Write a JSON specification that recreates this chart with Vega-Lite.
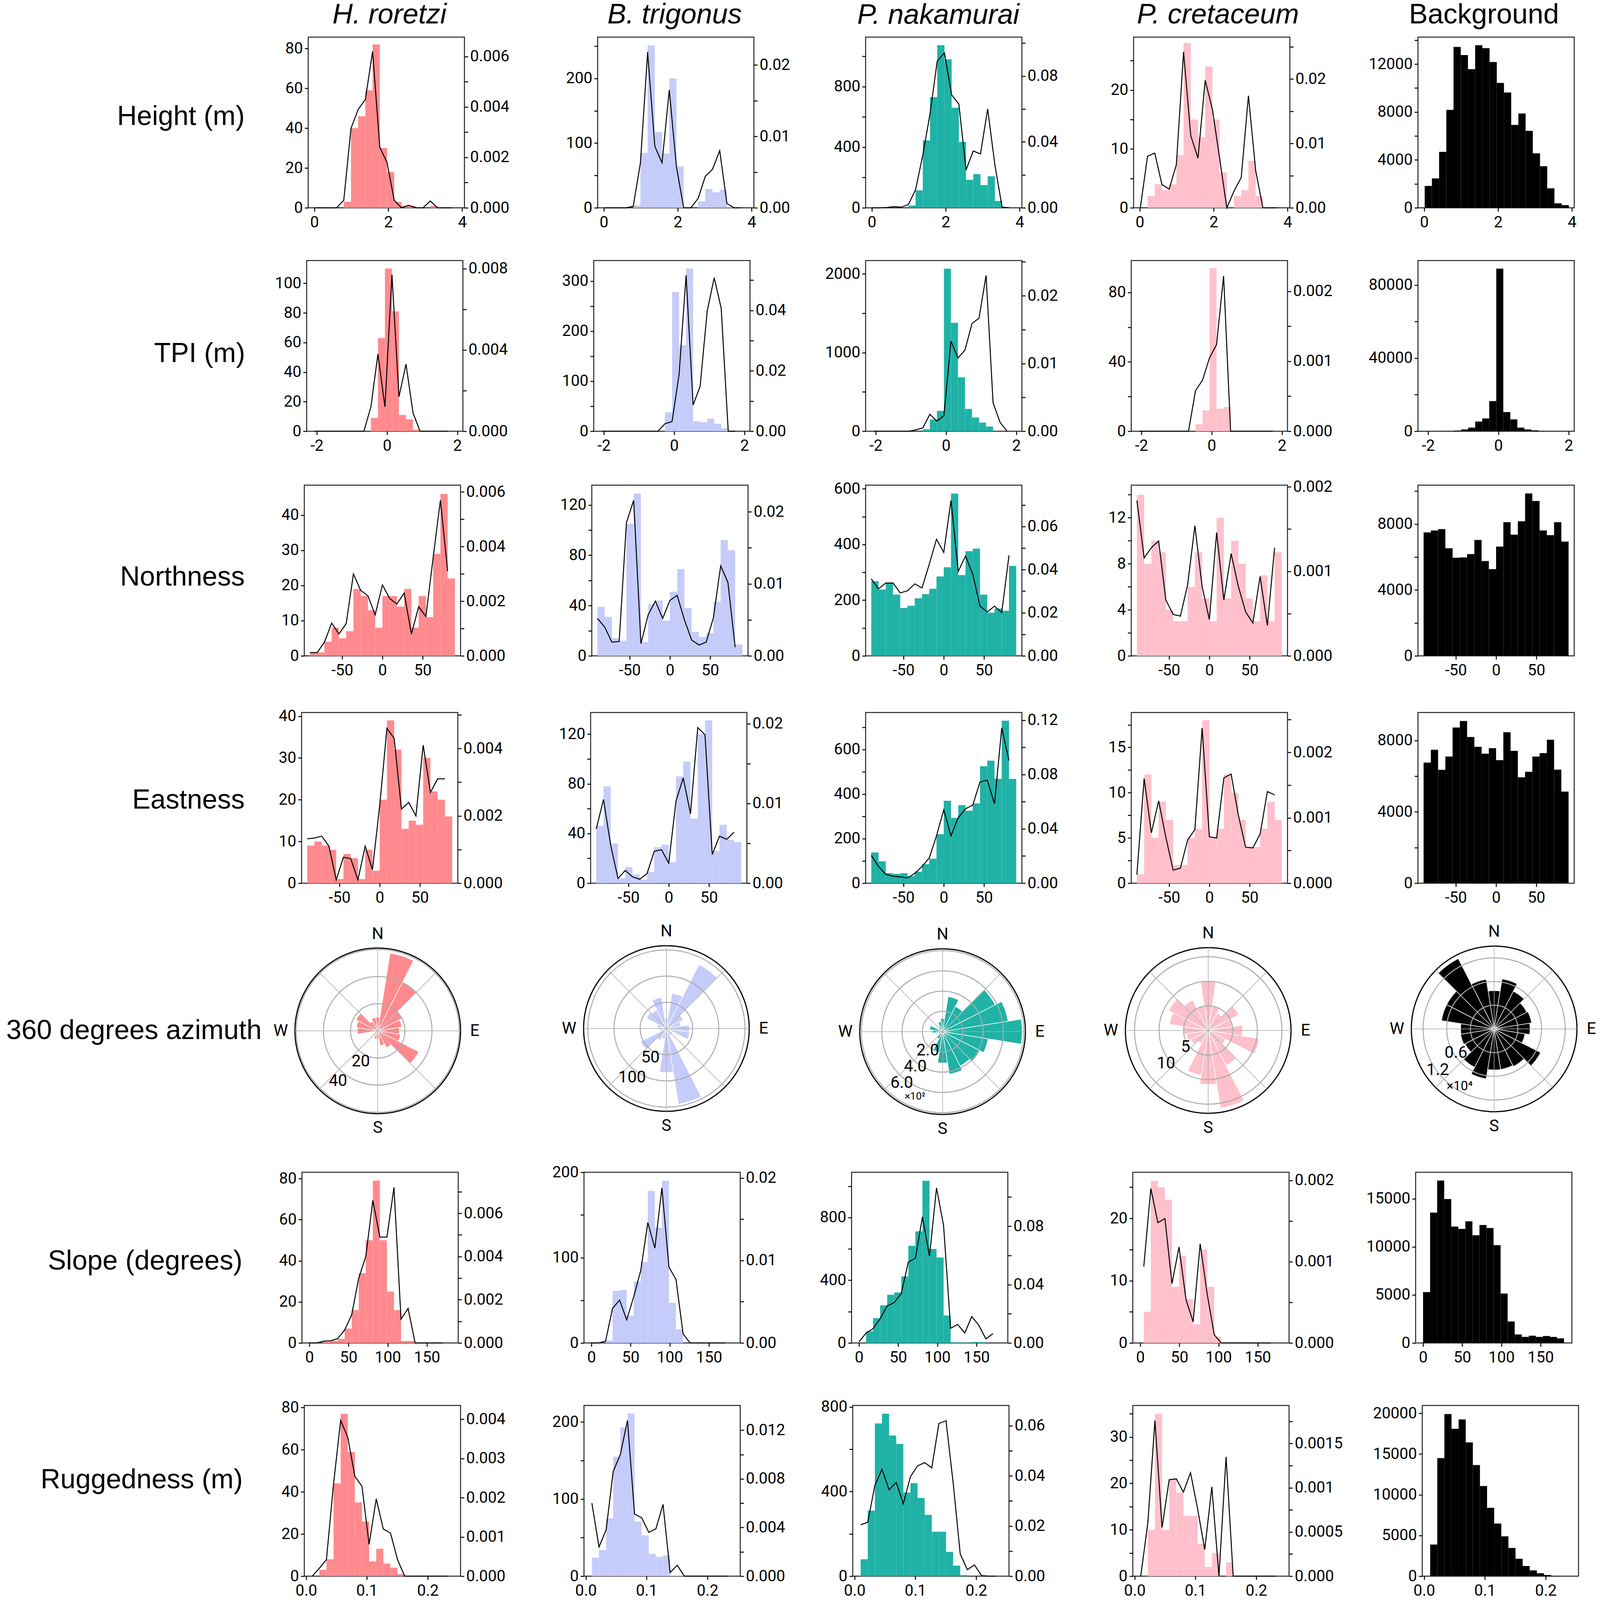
{"$schema":"https://vega.github.io/schema/vega-lite/v6.json","padding":0,"background":"#fff","spacing":0,
"config":{"numberFormat":"d","view":{"stroke":"#222","strokeWidth":2.5},"title":{"font":"Liberation Sans","fontSize":72,"fontWeight":"normal","anchor":"middle","baseline":"alphabetic","offset":20,"color":"#000"},
"axis":{"grid":false,"domain":false,"labelFont":"Roboto","labelFontSize":40,"labelColor":"#000","labelPadding":5,"labelOverlap":false,"labelFlush":false,"tickColor":"#000","tickWidth":2.5,"tickSize":9,"titleFont":"Liberation Sans","titleFontSize":70,"titleFontWeight":"normal","titleColor":"#000","titleAngle":0,"titleAlign":"right","titleBaseline":"middle"},
"axisX":{"labelPadding":8},
"text":{"font":"Roboto","fontSize":42,"color":"#000"}},
"datasets":{
"h":[{"k":0,"a":0.015,"b":0.21},{"k":1,"a":0.21,"b":0.405},{"k":2,"a":0.405,"b":0.6},{"k":3,"a":0.6,"b":0.795},{"k":4,"a":0.795,"b":0.99},{"k":5,"a":0.99,"b":1.185},{"k":6,"a":1.185,"b":1.38},{"k":7,"a":1.38,"b":1.575},{"k":8,"a":1.575,"b":1.77},{"k":9,"a":1.77,"b":1.965},{"k":10,"a":1.965,"b":2.16},{"k":11,"a":2.16,"b":2.355},{"k":12,"a":2.355,"b":2.55},{"k":13,"a":2.55,"b":2.745},{"k":14,"a":2.745,"b":2.94},{"k":15,"a":2.94,"b":3.135},{"k":16,"a":3.135,"b":3.33},{"k":17,"a":3.33,"b":3.525},{"k":18,"a":3.525,"b":3.72},{"k":19,"a":3.72,"b":3.915}],
"t":[{"k":0,"a":-2.06,"b":-1.86},{"k":1,"a":-1.86,"b":-1.66},{"k":2,"a":-1.66,"b":-1.46},{"k":3,"a":-1.46,"b":-1.26},{"k":4,"a":-1.26,"b":-1.06},{"k":5,"a":-1.06,"b":-0.86},{"k":6,"a":-0.86,"b":-0.66},{"k":7,"a":-0.66,"b":-0.46},{"k":8,"a":-0.46,"b":-0.26},{"k":9,"a":-0.26,"b":-0.06},{"k":10,"a":-0.06,"b":0.14},{"k":11,"a":0.14,"b":0.34},{"k":12,"a":0.34,"b":0.54},{"k":13,"a":0.54,"b":0.74},{"k":14,"a":0.74,"b":0.94},{"k":15,"a":0.94,"b":1.14},{"k":16,"a":1.14,"b":1.34},{"k":17,"a":1.34,"b":1.54},{"k":18,"a":1.54,"b":1.74},{"k":19,"a":1.74,"b":1.94}],
"e":[{"k":0,"a":-90,"b":-81},{"k":1,"a":-81,"b":-72},{"k":2,"a":-72,"b":-63},{"k":3,"a":-63,"b":-54},{"k":4,"a":-54,"b":-45},{"k":5,"a":-45,"b":-36},{"k":6,"a":-36,"b":-27},{"k":7,"a":-27,"b":-18},{"k":8,"a":-18,"b":-9},{"k":9,"a":-9,"b":0},{"k":10,"a":0,"b":9},{"k":11,"a":9,"b":18},{"k":12,"a":18,"b":27},{"k":13,"a":27,"b":36},{"k":14,"a":36,"b":45},{"k":15,"a":45,"b":54},{"k":16,"a":54,"b":63},{"k":17,"a":63,"b":72},{"k":18,"a":72,"b":81},{"k":19,"a":81,"b":90}],
"s":[{"k":0,"a":0,"b":9},{"k":1,"a":9,"b":18},{"k":2,"a":18,"b":27},{"k":3,"a":27,"b":36},{"k":4,"a":36,"b":45},{"k":5,"a":45,"b":54},{"k":6,"a":54,"b":63},{"k":7,"a":63,"b":72},{"k":8,"a":72,"b":81},{"k":9,"a":81,"b":90},{"k":10,"a":90,"b":99},{"k":11,"a":99,"b":108},{"k":12,"a":108,"b":117},{"k":13,"a":117,"b":126},{"k":14,"a":126,"b":135},{"k":15,"a":135,"b":144},{"k":16,"a":144,"b":153},{"k":17,"a":153,"b":162},{"k":18,"a":162,"b":171},{"k":19,"a":171,"b":180}],
"s4":[{"k":0,"a":4.5,"b":13.5},{"k":1,"a":13.5,"b":22.5},{"k":2,"a":22.5,"b":31.5},{"k":3,"a":31.5,"b":40.5},{"k":4,"a":40.5,"b":49.5},{"k":5,"a":49.5,"b":58.5},{"k":6,"a":58.5,"b":67.5},{"k":7,"a":67.5,"b":76.5},{"k":8,"a":76.5,"b":85.5},{"k":9,"a":85.5,"b":94.5},{"k":10,"a":94.5,"b":103.5},{"k":11,"a":103.5,"b":112.5},{"k":12,"a":112.5,"b":121.5},{"k":13,"a":121.5,"b":130.5},{"k":14,"a":130.5,"b":139.5},{"k":15,"a":139.5,"b":148.5},{"k":16,"a":148.5,"b":157.5},{"k":17,"a":157.5,"b":166.5},{"k":18,"a":166.5,"b":175.5}],
"r":[{"k":0,"a":0.01,"b":0.0217},{"k":1,"a":0.0217,"b":0.0334},{"k":2,"a":0.0334,"b":0.0451},{"k":3,"a":0.0451,"b":0.0568},{"k":4,"a":0.0568,"b":0.0685},{"k":5,"a":0.0685,"b":0.0802},{"k":6,"a":0.0802,"b":0.0919},{"k":7,"a":0.0919,"b":0.1036},{"k":8,"a":0.1036,"b":0.1153},{"k":9,"a":0.1153,"b":0.127},{"k":10,"a":0.127,"b":0.1387},{"k":11,"a":0.1387,"b":0.1504},{"k":12,"a":0.1504,"b":0.1621},{"k":13,"a":0.1621,"b":0.1738},{"k":14,"a":0.1738,"b":0.1855},{"k":15,"a":0.1855,"b":0.1972},{"k":16,"a":0.1972,"b":0.2089},{"k":17,"a":0.2089,"b":0.2206},{"k":18,"a":0.2206,"b":0.2323},{"k":19,"a":0.2323,"b":0.244}],
"z":[{"k":0,"a":-9,"b":9},{"k":1,"a":9,"b":27},{"k":2,"a":27,"b":45},{"k":3,"a":45,"b":63},{"k":4,"a":63,"b":81},{"k":5,"a":81,"b":99},{"k":6,"a":99,"b":117},{"k":7,"a":117,"b":135},{"k":8,"a":135,"b":153},{"k":9,"a":153,"b":171},{"k":10,"a":171,"b":189},{"k":11,"a":189,"b":207},{"k":12,"a":207,"b":225},{"k":13,"a":225,"b":243},{"k":14,"a":243,"b":261},{"k":15,"a":261,"b":279},{"k":16,"a":279,"b":297},{"k":17,"a":297,"b":315},{"k":18,"a":315,"b":333},{"k":19,"a":333,"b":351}],
"sp":[{"t":0},{"t":45},{"t":90},{"t":135},{"t":180},{"t":225},{"t":270},{"t":315}]},
"vconcat":[
{"bounds":"flush","spacing":0,"hconcat":[
{"width":789,"height":1,"view":{"stroke":null},"data":{"values":[{}]},"mark":"text","encoding":{}},
{"width":400,"height":437,"title":{"text":"H. roretzi","fontStyle":"italic","dx":8},"data":{"values":[{"k":0,"n":0,"p":0},{"k":1,"n":0,"p":0},{"k":2,"n":0,"p":0},{"k":3,"n":0,"p":0},{"k":4,"n":3,"p":0.0003},{"k":5,"n":40,"p":0.00315},{"k":6,"n":46,"p":0.0039},{"k":7,"n":59,"p":0.0043},{"k":8,"n":82,"p":0.0062},{"k":9,"n":30,"p":0.0024},{"k":10,"n":18,"p":0.0018},{"k":11,"n":3,"p":0.0003},{"k":12,"n":1,"p":0},{"k":13,"n":1,"p":0.0001},{"k":14,"n":0,"p":0},{"k":15,"n":0,"p":0},{"k":16,"n":1,"p":0.00027},{"k":17,"n":0,"p":0},{"k":18,"n":0,"p":0},{"k":19,"n":0,"p":0}]},"transform":[{"lookup":"k","from":{"data":{"name":"h"},"key":"k","fields":["a","b"]}}],"encoding":{"x":{"field":"a","type":"quantitative","title":null,"scale":{"domain":[-0.167,4.06]},"axis":{"values":[0,2,4]}}},"layer":[{"mark":{"type":"bar","color":"#ff8a8e"},"encoding":{"x2":{"field":"b"},"y2":{"datum":0},"y":{"field":"n","type":"quantitative","scale":{"domain":[0,85.7]},"axis":{"values":[0,20,40,60,80],"title":"Height (m)","titleX":-163,"titleY":203}}}},{"mark":{"type":"line","color":"#000","strokeWidth":2.5},"encoding":{"y":{"field":"p","type":"quantitative","title":null,"scale":{"domain":[0,0.00677]},"axis":{"orient":"right","format":".3f","values":[0,0.001,0.002,0.003,0.004,0.005,0.006],"labelExpr":"round(datum.value*1000)%2==0?datum.label:''"}}}}],"resolve":{"scale":{"y":"independent"}}},
{"width":341,"height":1,"view":{"stroke":null},"data":{"values":[{}]},"mark":"text","encoding":{}},
{"width":400,"height":437,"title":{"text":"B. trigonus","fontStyle":"italic","dx":-3},"data":{"values":[{"k":0,"n":0,"p":0},{"k":1,"n":0,"p":0},{"k":2,"n":0,"p":0},{"k":3,"n":0,"p":0},{"k":4,"n":4,"p":0.0002},{"k":5,"n":85,"p":0.0063},{"k":6,"n":251,"p":0.0218},{"k":7,"n":117,"p":0.0086},{"k":8,"n":84,"p":0.0063},{"k":9,"n":200,"p":0.0165},{"k":10,"n":64,"p":0.0057},{"k":11,"n":0,"p":0},{"k":12,"n":0,"p":0},{"k":13,"n":10,"p":0.0013},{"k":14,"n":29,"p":0.0044},{"k":15,"n":24,"p":0.0054},{"k":16,"n":28,"p":0.008},{"k":17,"n":2,"p":0.0006},{"k":18,"n":0,"p":0},{"k":19,"n":0,"p":0}]},"transform":[{"lookup":"k","from":{"data":{"name":"h"},"key":"k","fields":["a","b"]}}],"encoding":{"x":{"field":"a","type":"quantitative","title":null,"scale":{"domain":[-0.167,4.06]},"axis":{"values":[0,2,4]}}},"layer":[{"mark":{"type":"bar","color":"#c5ccfa"},"encoding":{"x2":{"field":"b"},"y2":{"datum":0},"y":{"field":"n","type":"quantitative","title":null,"scale":{"domain":[0,263.9]},"axis":{"values":[0,50,100,150,200,250],"labelExpr":"datum.value%100==0?datum.label:''"}}}},{"mark":{"type":"line","color":"#000","strokeWidth":2.5},"encoding":{"y":{"field":"p","type":"quantitative","title":null,"scale":{"domain":[0,0.0239]},"axis":{"orient":"right","format":".2f","values":[0,0.005,0.01,0.015,0.02],"labelExpr":"round(datum.value*1000)%10==0?datum.label:''"}}}}],"resolve":{"scale":{"y":"independent"}}},
{"width":286,"height":1,"view":{"stroke":null},"data":{"values":[{}]},"mark":"text","encoding":{}},
{"width":400,"height":437,"title":{"text":"P. nakamurai","fontStyle":"italic","dx":-14,"offset":14},"data":{"values":[{"k":0,"n":0,"p":0},{"k":1,"n":0,"p":0},{"k":2,"n":0,"p":0.0002},{"k":3,"n":0,"p":0.0007},{"k":4,"n":0,"p":0.0004},{"k":5,"n":15,"p":0.002},{"k":6,"n":115,"p":0.011},{"k":7,"n":445,"p":0.032},{"k":8,"n":730,"p":0.057},{"k":9,"n":1073,"p":0.089},{"k":10,"n":980,"p":0.094},{"k":11,"n":660,"p":0.0685},{"k":12,"n":435,"p":0.063},{"k":13,"n":185,"p":0.023},{"k":14,"n":222,"p":0.0345},{"k":15,"n":150,"p":0.0327},{"k":16,"n":208,"p":0.06},{"k":17,"n":45,"p":0.026},{"k":18,"n":2,"p":0.0004},{"k":19,"n":0,"p":0}]},"transform":[{"lookup":"k","from":{"data":{"name":"h"},"key":"k","fields":["a","b"]}}],"encoding":{"x":{"field":"a","type":"quantitative","title":null,"scale":{"domain":[-0.167,4.06]},"axis":{"values":[0,2,4]}}},"layer":[{"mark":{"type":"bar","color":"#20b2a6"},"encoding":{"x2":{"field":"b"},"y2":{"datum":0},"y":{"field":"n","type":"quantitative","title":null,"scale":{"domain":[0,1126]},"axis":{"values":[0,200,400,600,800,1000],"labelExpr":"datum.value%400==0?datum.label:''"}}}},{"mark":{"type":"line","color":"#000","strokeWidth":2.5},"encoding":{"y":{"field":"p","type":"quantitative","title":null,"scale":{"domain":[0,0.1036]},"axis":{"orient":"right","format":".2f","values":[0,0.02,0.04,0.06,0.08,0.1],"labelExpr":"round(datum.value*100)%4==0&&datum.value<0.1?datum.label:''"}}}}],"resolve":{"scale":{"y":"independent"}}},
{"width":286,"height":1,"view":{"stroke":null},"data":{"values":[{}]},"mark":"text","encoding":{}},
{"width":400,"height":437,"title":{"text":"P. cretaceum","fontStyle":"italic","dx":16},"data":{"values":[{"k":0,"n":0,"p":0},{"k":1,"n":2,"p":0.008},{"k":2,"n":4,"p":0.0085},{"k":3,"n":3,"p":0.0036},{"k":4,"n":4,"p":0.0029},{"k":5,"n":9,"p":0.0067},{"k":6,"n":28,"p":0.0242},{"k":7,"n":15,"p":0.0112},{"k":8,"n":12,"p":0.0077},{"k":9,"n":24,"p":0.0198},{"k":10,"n":15,"p":0.0153},{"k":11,"n":6,"p":0.0077},{"k":12,"n":0,"p":0},{"k":13,"n":2,"p":0.0026},{"k":14,"n":3,"p":0.0047},{"k":15,"n":8,"p":0.0174},{"k":16,"n":2,"p":0.0058},{"k":17,"n":0,"p":0},{"k":18,"n":0,"p":0},{"k":19,"n":0,"p":0}]},"transform":[{"lookup":"k","from":{"data":{"name":"h"},"key":"k","fields":["a","b"]}}],"encoding":{"x":{"field":"a","type":"quantitative","title":null,"scale":{"domain":[-0.167,4.06]},"axis":{"values":[0,2,4]}}},"layer":[{"mark":{"type":"bar","color":"#ffc0cb"},"encoding":{"x2":{"field":"b"},"y2":{"datum":0},"y":{"field":"n","type":"quantitative","title":null,"scale":{"domain":[0,29]},"axis":{"values":[0,5,10,15,20,25],"labelExpr":"datum.value%10==0?datum.label:''"}}}},{"mark":{"type":"line","color":"#000","strokeWidth":2.5},"encoding":{"y":{"field":"p","type":"quantitative","title":null,"scale":{"domain":[0,0.0265]},"axis":{"orient":"right","format":".2f","values":[0,0.005,0.01,0.015,0.02,0.025],"labelExpr":"round(datum.value*1000)%10==0?datum.label:''"}}}}],"resolve":{"scale":{"y":"independent"}}},
{"width":328,"height":1,"view":{"stroke":null},"data":{"values":[{}]},"mark":"text","encoding":{}},
{"width":400,"height":437,"title":{"text":"Background","dx":-31,"offset":8},"data":{"values":[{"k":0,"n":1825},{"k":1,"n":2450},{"k":2,"n":4675},{"k":3,"n":8175},{"k":4,"n":13425},{"k":5,"n":12750},{"k":6,"n":11575},{"k":7,"n":13575},{"k":8,"n":13325},{"k":9,"n":12175},{"k":10,"n":10425},{"k":11,"n":9625},{"k":12,"n":6925},{"k":13,"n":7875},{"k":14,"n":6425},{"k":15,"n":4550},{"k":16,"n":3475},{"k":17,"n":1625},{"k":18,"n":375},{"k":19,"n":225}]},"transform":[{"lookup":"k","from":{"data":{"name":"h"},"key":"k","fields":["a","b"]}}],"mark":{"type":"bar","color":"#000"},"encoding":{"x":{"field":"a","type":"quantitative","title":null,"scale":{"domain":[-0.167,4.06]},"axis":{"values":[0,2,4]}},"x2":{"field":"b"},"y2":{"datum":0},"y":{"field":"n","type":"quantitative","title":null,"scale":{"domain":[0,14250]},"axis":{"values":[0,2000,4000,6000,8000,10000,12000,14000],"labelExpr":"datum.value%4000==0?datum.label:''"}}}}
]},
{"width":1,"height":55,"view":{"stroke":null},"data":{"values":[{}]},"mark":"text","encoding":{}},
{"bounds":"flush","spacing":0,"hconcat":[
{"width":785,"height":1,"view":{"stroke":null},"data":{"values":[{}]},"mark":"text","encoding":{}},
{"width":400,"height":437,"data":{"values":[{"k":0,"n":0,"p":0},{"k":1,"n":0,"p":0},{"k":2,"n":0,"p":0},{"k":3,"n":0,"p":0},{"k":4,"n":0,"p":0},{"k":5,"n":0,"p":0},{"k":6,"n":0,"p":0},{"k":7,"n":0,"p":0},{"k":8,"n":9,"p":0.0012},{"k":9,"n":63,"p":0.0038},{"k":10,"n":110,"p":0.0012},{"k":11,"n":81,"p":0.0077},{"k":12,"n":11,"p":0.0017},{"k":13,"n":8,"p":0.0033},{"k":14,"n":1,"p":0.0009},{"k":15,"n":0,"p":0},{"k":16,"n":0,"p":0},{"k":17,"n":0,"p":0},{"k":18,"n":0,"p":0},{"k":19,"n":0,"p":0}]},"transform":[{"lookup":"k","from":{"data":{"name":"t"},"key":"k","fields":["a","b"]}}],"encoding":{"x":{"field":"a","type":"quantitative","title":null,"scale":{"domain":[-2.29,2.16]},"axis":{"values":[-2,0,2],"labelExpr":"''+datum.value"}}},"layer":[{"mark":{"type":"bar","color":"#ff8a8e"},"encoding":{"x2":{"field":"b"},"y2":{"datum":0},"y":{"field":"n","type":"quantitative","scale":{"domain":[0,115.4]},"axis":{"values":[0,20,40,60,80,100],"title":"TPI (m)","titleX":-158,"titleY":238}}}},{"mark":{"type":"line","color":"#000","strokeWidth":2.5},"encoding":{"y":{"field":"p","type":"quantitative","title":null,"scale":{"domain":[0,0.0084]},"axis":{"orient":"right","format":".3f","values":[0,0.002,0.004,0.006,0.008],"labelExpr":"round(datum.value*1000)%4==0?datum.label:''"}}}}],"resolve":{"scale":{"y":"independent"}}},
{"width":335,"height":1,"view":{"stroke":null},"data":{"values":[{}]},"mark":"text","encoding":{}},
{"width":400,"height":437,"data":{"values":[{"k":0,"n":0,"p":0},{"k":1,"n":0,"p":0},{"k":2,"n":0,"p":0},{"k":3,"n":0,"p":0},{"k":4,"n":0,"p":0},{"k":5,"n":0,"p":0},{"k":6,"n":0,"p":0},{"k":7,"n":0,"p":0},{"k":8,"n":0,"p":0},{"k":9,"n":38,"p":0.0025},{"k":10,"n":278,"p":0.0032},{"k":11,"n":172,"p":0.0188},{"k":12,"n":325,"p":0.0516},{"k":13,"n":20,"p":0.0087},{"k":14,"n":18,"p":0.0149},{"k":15,"n":25,"p":0.0397},{"k":16,"n":15,"p":0.0508},{"k":17,"n":6,"p":0.0407},{"k":18,"n":1,"p":0},{"k":19,"n":0,"p":0}]},"transform":[{"lookup":"k","from":{"data":{"name":"t"},"key":"k","fields":["a","b"]}}],"encoding":{"x":{"field":"a","type":"quantitative","title":null,"scale":{"domain":[-2.29,2.16]},"axis":{"values":[-2,0,2],"labelExpr":"''+datum.value"}}},"layer":[{"mark":{"type":"bar","color":"#c5ccfa"},"encoding":{"x2":{"field":"b"},"y2":{"datum":0},"y":{"field":"n","type":"quantitative","title":null,"scale":{"domain":[0,341]},"axis":{"values":[0,50,100,150,200,250,300],"labelExpr":"datum.value%100==0?datum.label:''"}}}},{"mark":{"type":"line","color":"#000","strokeWidth":2.5},"encoding":{"y":{"field":"p","type":"quantitative","title":null,"scale":{"domain":[0,0.0565]},"axis":{"orient":"right","format":".2f","values":[0,0.01,0.02,0.03,0.04,0.05],"labelExpr":"round(datum.value*100)%2==0?datum.label:''"}}}}],"resolve":{"scale":{"y":"independent"}}},
{"width":296,"height":1,"view":{"stroke":null},"data":{"values":[{}]},"mark":"text","encoding":{}},
{"width":400,"height":437,"data":{"values":[{"k":0,"n":0,"p":0},{"k":1,"n":0,"p":0},{"k":2,"n":0,"p":0},{"k":3,"n":0,"p":0},{"k":4,"n":0,"p":0},{"k":5,"n":0,"p":0},{"k":6,"n":0,"p":0.0002},{"k":7,"n":25,"p":0.0005},{"k":8,"n":150,"p":0.0025},{"k":9,"n":260,"p":0.0015},{"k":10,"n":2068,"p":0.0023},{"k":11,"n":1380,"p":0.0133},{"k":12,"n":685,"p":0.0108},{"k":13,"n":285,"p":0.012},{"k":14,"n":175,"p":0.0159},{"k":15,"n":110,"p":0.0167},{"k":16,"n":60,"p":0.023},{"k":17,"n":0,"p":0.0042},{"k":18,"n":0,"p":0.0013},{"k":19,"n":0,"p":0}]},"transform":[{"lookup":"k","from":{"data":{"name":"t"},"key":"k","fields":["a","b"]}}],"encoding":{"x":{"field":"a","type":"quantitative","title":null,"scale":{"domain":[-2.29,2.16]},"axis":{"values":[-2,0,2],"labelExpr":"''+datum.value"}}},"layer":[{"mark":{"type":"bar","color":"#20b2a6"},"encoding":{"x2":{"field":"b"},"y2":{"datum":0},"y":{"field":"n","type":"quantitative","title":null,"scale":{"domain":[0,2171]},"axis":{"values":[0,500,1000,1500,2000],"labelExpr":"datum.value%1000==0?datum.label:''"}}}},{"mark":{"type":"line","color":"#000","strokeWidth":2.5},"encoding":{"y":{"field":"p","type":"quantitative","title":null,"scale":{"domain":[0,0.0252]},"axis":{"orient":"right","format":".2f","values":[0,0.005,0.01,0.015,0.02,0.025],"labelExpr":"round(datum.value*1000)%10==0?datum.label:''"}}}}],"resolve":{"scale":{"y":"independent"}}},
{"width":280,"height":1,"view":{"stroke":null},"data":{"values":[{}]},"mark":"text","encoding":{}},
{"width":400,"height":437,"data":{"values":[{"k":0,"n":0,"p":0},{"k":1,"n":0,"p":0},{"k":2,"n":0,"p":0},{"k":3,"n":0,"p":0},{"k":4,"n":0,"p":0},{"k":5,"n":0,"p":0},{"k":6,"n":0,"p":0},{"k":7,"n":0,"p":0},{"k":8,"n":4,"p":0.00058},{"k":9,"n":12,"p":0.00073},{"k":10,"n":94,"p":0.00105},{"k":11,"n":13,"p":0.00124},{"k":12,"n":14,"p":0.00222},{"k":13,"n":0,"p":0},{"k":14,"n":0,"p":0},{"k":15,"n":0,"p":0},{"k":16,"n":0,"p":0},{"k":17,"n":0,"p":0},{"k":18,"n":0,"p":0},{"k":19,"n":0,"p":0}]},"transform":[{"lookup":"k","from":{"data":{"name":"t"},"key":"k","fields":["a","b"]}}],"encoding":{"x":{"field":"a","type":"quantitative","title":null,"scale":{"domain":[-2.29,2.16]},"axis":{"values":[-2,0,2],"labelExpr":"''+datum.value"}}},"layer":[{"mark":{"type":"bar","color":"#ffc0cb"},"encoding":{"x2":{"field":"b"},"y2":{"datum":0},"y":{"field":"n","type":"quantitative","title":null,"scale":{"domain":[0,98.4]},"axis":{"values":[0,20,40,60,80],"labelExpr":"datum.value%40==0?datum.label:''"}}}},{"mark":{"type":"line","color":"#000","strokeWidth":2.5},"encoding":{"y":{"field":"p","type":"quantitative","title":null,"scale":{"domain":[0,0.00244]},"axis":{"orient":"right","format":".3f","values":[0,0.0005,0.001,0.0015,0.002],"labelExpr":"round(datum.value*10000)%10==0?datum.label:''"}}}}],"resolve":{"scale":{"y":"independent"}}},
{"width":334,"height":1,"view":{"stroke":null},"data":{"values":[{}]},"mark":"text","encoding":{}},
{"width":400,"height":437,"data":{"values":[{"k":0,"n":0},{"k":1,"n":0},{"k":2,"n":100},{"k":3,"n":200},{"k":4,"n":400},{"k":5,"n":1000},{"k":6,"n":2000},{"k":7,"n":5300},{"k":8,"n":7000},{"k":9,"n":16500},{"k":10,"n":89000},{"k":11,"n":10500},{"k":12,"n":6500},{"k":13,"n":2000},{"k":14,"n":1000},{"k":15,"n":500},{"k":16,"n":200},{"k":17,"n":0},{"k":18,"n":0},{"k":19,"n":0}]},"transform":[{"lookup":"k","from":{"data":{"name":"t"},"key":"k","fields":["a","b"]}}],"mark":{"type":"bar","color":"#000"},"encoding":{"x":{"field":"a","type":"quantitative","title":null,"scale":{"domain":[-2.29,2.16]},"axis":{"values":[-2,0,2],"labelExpr":"''+datum.value"}},"x2":{"field":"b"},"y2":{"datum":0},"y":{"field":"n","type":"quantitative","title":null,"scale":{"domain":[0,93440]},"axis":{"values":[0,20000,40000,60000,80000],"labelExpr":"datum.value%40000==0?datum.label:''"}}}}
]},
{"width":1,"height":58,"view":{"stroke":null},"data":{"values":[{}]},"mark":"text","encoding":{}},
{"bounds":"flush","spacing":0,"hconcat":[
{"width":779,"height":1,"view":{"stroke":null},"data":{"values":[{}]},"mark":"text","encoding":{}},
{"width":400,"height":437,"data":{"values":[{"k":0,"n":1,"p":0.00012},{"k":1,"n":1,"p":0.00012},{"k":2,"n":4,"p":0.0005},{"k":3,"n":8,"p":0.0012},{"k":4,"n":5,"p":0.0008},{"k":5,"n":7,"p":0.00118},{"k":6,"n":19,"p":0.003},{"k":7,"n":17,"p":0.0024},{"k":8,"n":13,"p":0.0022},{"k":9,"n":8,"p":0.0015},{"k":10,"n":17,"p":0.0026},{"k":11,"n":17,"p":0.0021},{"k":12,"n":14,"p":0.0019},{"k":13,"n":19,"p":0.0023},{"k":14,"n":8,"p":0.0008},{"k":15,"n":17,"p":0.0018},{"k":16,"n":11,"p":0.00144},{"k":17,"n":29,"p":0.0036},{"k":18,"n":46,"p":0.0057},{"k":19,"n":22,"p":0.0031}]},"transform":[{"lookup":"k","from":{"data":{"name":"e"},"key":"k","fields":["a","b"]}}],"encoding":{"x":{"field":"a","type":"quantitative","title":null,"scale":{"domain":[-97,97]},"axis":{"values":[-50,0,50],"labelExpr":"''+datum.value"}}},"layer":[{"mark":{"type":"bar","color":"#ff8a8e"},"encoding":{"x2":{"field":"b"},"y2":{"datum":0},"y":{"field":"n","type":"quantitative","scale":{"domain":[0,48.5]},"axis":{"values":[0,10,20,30,40],"title":"Northness","titleX":-153,"titleY":235}}}},{"mark":{"type":"line","color":"#000","strokeWidth":2.5},"encoding":{"y":{"field":"p","type":"quantitative","title":null,"scale":{"domain":[0,0.00625]},"axis":{"orient":"right","format":".3f","values":[0,0.001,0.002,0.003,0.004,0.005,0.006],"labelExpr":"round(datum.value*1000)%2==0?datum.label:''"}}}}],"resolve":{"scale":{"y":"independent"}}},
{"width":336,"height":1,"view":{"stroke":null},"data":{"values":[{}]},"mark":"text","encoding":{}},
{"width":400,"height":437,"data":{"values":[{"k":0,"n":39,"p":0.0052},{"k":1,"n":31,"p":0.004},{"k":2,"n":14,"p":0.0019},{"k":3,"n":12,"p":0.002},{"k":4,"n":105,"p":0.0185},{"k":5,"n":129,"p":0.0216},{"k":6,"n":11,"p":0.0017},{"k":7,"n":41,"p":0.0057},{"k":8,"n":44,"p":0.0076},{"k":9,"n":28,"p":0.0052},{"k":10,"n":51,"p":0.0077},{"k":11,"n":69,"p":0.0084},{"k":12,"n":38,"p":0.005},{"k":13,"n":19,"p":0.0022},{"k":14,"n":15,"p":0.0015},{"k":15,"n":18,"p":0.0019},{"k":16,"n":43,"p":0.0053},{"k":17,"n":92,"p":0.0125},{"k":18,"n":84,"p":0.0102},{"k":19,"n":9,"p":0.0012}]},"transform":[{"lookup":"k","from":{"data":{"name":"e"},"key":"k","fields":["a","b"]}}],"encoding":{"x":{"field":"a","type":"quantitative","title":null,"scale":{"domain":[-97,97]},"axis":{"values":[-50,0,50],"labelExpr":"''+datum.value"}}},"layer":[{"mark":{"type":"bar","color":"#c5ccfa"},"encoding":{"x2":{"field":"b"},"y2":{"datum":0},"y":{"field":"n","type":"quantitative","title":null,"scale":{"domain":[0,135.7]},"axis":{"values":[0,20,40,60,80,100,120],"labelExpr":"datum.value%40==0?datum.label:''"}}}},{"mark":{"type":"line","color":"#000","strokeWidth":2.5},"encoding":{"y":{"field":"p","type":"quantitative","title":null,"scale":{"domain":[0,0.0237]},"axis":{"orient":"right","format":".2f","values":[0,0.005,0.01,0.015,0.02],"labelExpr":"round(datum.value*1000)%10==0?datum.label:''"}}}}],"resolve":{"scale":{"y":"independent"}}},
{"width":301,"height":1,"view":{"stroke":null},"data":{"values":[{}]},"mark":"text","encoding":{}},
{"width":400,"height":437,"data":{"values":[{"k":0,"n":268,"p":0.0357},{"k":1,"n":238,"p":0.0311},{"k":2,"n":262,"p":0.0338},{"k":3,"n":220,"p":0.0338},{"k":4,"n":172,"p":0.0292},{"k":5,"n":180,"p":0.0302},{"k":6,"n":207,"p":0.0334},{"k":7,"n":222,"p":0.0315},{"k":8,"n":241,"p":0.0425},{"k":9,"n":285,"p":0.0541},{"k":10,"n":318,"p":0.048},{"k":11,"n":583,"p":0.0721},{"k":12,"n":290,"p":0.0392},{"k":13,"n":376,"p":0.0463},{"k":14,"n":385,"p":0.0379},{"k":15,"n":220,"p":0.0231},{"k":16,"n":155,"p":0.0203},{"k":17,"n":170,"p":0.0231},{"k":18,"n":162,"p":0.0201},{"k":19,"n":323,"p":0.0466}]},"transform":[{"lookup":"k","from":{"data":{"name":"e"},"key":"k","fields":["a","b"]}}],"encoding":{"x":{"field":"a","type":"quantitative","title":null,"scale":{"domain":[-97,97]},"axis":{"values":[-50,0,50],"labelExpr":"''+datum.value"}}},"layer":[{"mark":{"type":"bar","color":"#20b2a6"},"encoding":{"x2":{"field":"b"},"y2":{"datum":0},"y":{"field":"n","type":"quantitative","title":null,"scale":{"domain":[0,613]},"axis":{"values":[0,100,200,300,400,500,600],"labelExpr":"datum.value%200==0?datum.label:''"}}}},{"mark":{"type":"line","color":"#000","strokeWidth":2.5},"encoding":{"y":{"field":"p","type":"quantitative","title":null,"scale":{"domain":[0,0.0792]},"axis":{"orient":"right","format":".2f","values":[0,0.01,0.02,0.03,0.04,0.05,0.06,0.07],"labelExpr":"round(datum.value*100)%2==0?datum.label:''"}}}}],"resolve":{"scale":{"y":"independent"}}},
{"width":280,"height":1,"view":{"stroke":null},"data":{"values":[{}]},"mark":"text","encoding":{}},
{"width":400,"height":437,"data":{"values":[{"k":0,"n":14,"p":0.00184},{"k":1,"n":8,"p":0.00116},{"k":2,"n":10,"p":0.00128},{"k":3,"n":9,"p":0.00136},{"k":4,"n":4,"p":0.00066},{"k":5,"n":3,"p":0.00049},{"k":6,"n":3,"p":0.00047},{"k":7,"n":6,"p":0.00084},{"k":8,"n":9,"p":0.00154},{"k":9,"n":5,"p":0.00082},{"k":10,"n":3,"p":0.00043},{"k":11,"n":12,"p":0.00146},{"k":12,"n":5,"p":0.00066},{"k":13,"n":10,"p":0.00121},{"k":14,"n":8,"p":0.00082},{"k":15,"n":5,"p":0.00052},{"k":16,"n":3,"p":0.00039},{"k":17,"n":7,"p":0.00094},{"k":18,"n":3,"p":0.00036},{"k":19,"n":9,"p":0.00128}]},"transform":[{"lookup":"k","from":{"data":{"name":"e"},"key":"k","fields":["a","b"]}}],"encoding":{"x":{"field":"a","type":"quantitative","title":null,"scale":{"domain":[-97,97]},"axis":{"values":[-50,0,50],"labelExpr":"''+datum.value"}}},"layer":[{"mark":{"type":"bar","color":"#ffc0cb"},"encoding":{"x2":{"field":"b"},"y2":{"datum":0},"y":{"field":"n","type":"quantitative","title":null,"scale":{"domain":[0,14.83]},"axis":{"values":[0,2,4,6,8,10,12,14],"labelExpr":"datum.value%4==0?datum.label:''"}}}},{"mark":{"type":"line","color":"#000","strokeWidth":2.5},"encoding":{"y":{"field":"p","type":"quantitative","title":null,"scale":{"domain":[0,0.00202]},"axis":{"orient":"right","format":".3f","values":[0,0.0005,0.001,0.0015,0.002],"labelExpr":"round(datum.value*10000)%10==0?datum.label:''"}}}}],"resolve":{"scale":{"y":"independent"}}},
{"width":334,"height":1,"view":{"stroke":null},"data":{"values":[{}]},"mark":"text","encoding":{}},
{"width":400,"height":437,"data":{"values":[{"k":0,"n":7494},{"k":1,"n":7612},{"k":2,"n":7696},{"k":3,"n":6532},{"k":4,"n":5958},{"k":5,"n":5975},{"k":6,"n":6177},{"k":7,"n":7038},{"k":8,"n":5755},{"k":9,"n":5266},{"k":10,"n":6633},{"k":11,"n":8118},{"k":12,"n":7359},{"k":13,"n":8169},{"k":14,"n":9857},{"k":15,"n":9401},{"k":16,"n":7612},{"k":17,"n":7325},{"k":18,"n":8118},{"k":19,"n":6937}]},"transform":[{"lookup":"k","from":{"data":{"name":"e"},"key":"k","fields":["a","b"]}}],"mark":{"type":"bar","color":"#000"},"encoding":{"x":{"field":"a","type":"quantitative","title":null,"scale":{"domain":[-97,97]},"axis":{"values":[-50,0,50],"labelExpr":"''+datum.value"}},"x2":{"field":"b"},"y2":{"datum":0},"y":{"field":"n","type":"quantitative","title":null,"scale":{"domain":[0,10363]},"axis":{"values":[0,2000,4000,6000,8000,10000],"labelExpr":"datum.value%4000==0?datum.label:''"}}}}
]},
{"width":1,"height":65,"view":{"stroke":null},"data":{"values":[{}]},"mark":"text","encoding":{}},
{"bounds":"flush","spacing":0,"hconcat":[
{"width":772,"height":1,"view":{"stroke":null},"data":{"values":[{}]},"mark":"text","encoding":{}},
{"width":400,"height":437,"data":{"values":[{"k":0,"n":9,"p":0.00132},{"k":1,"n":10,"p":0.00134},{"k":2,"n":9,"p":0.0014},{"k":3,"n":8,"p":0.0011},{"k":4,"n":1,"p":0.0001},{"k":5,"n":7,"p":0.00077},{"k":6,"n":6,"p":0.00073},{"k":7,"n":1,"p":0.0001},{"k":8,"n":8,"p":0.0011},{"k":9,"n":3,"p":0.0004},{"k":10,"n":20,"p":0.0023},{"k":11,"n":39,"p":0.0046},{"k":12,"n":32,"p":0.0043},{"k":13,"n":13,"p":0.0022},{"k":14,"n":15,"p":0.0024},{"k":15,"n":14,"p":0.002},{"k":16,"n":30,"p":0.0041},{"k":17,"n":22,"p":0.0027},{"k":18,"n":20,"p":0.0031},{"k":19,"n":16,"p":0.0031}]},"transform":[{"lookup":"k","from":{"data":{"name":"e"},"key":"k","fields":["a","b"]}}],"encoding":{"x":{"field":"a","type":"quantitative","title":null,"scale":{"domain":[-97,97]},"axis":{"values":[-50,0,50],"labelExpr":"''+datum.value"}}},"layer":[{"mark":{"type":"bar","color":"#ff8a8e"},"encoding":{"x2":{"field":"b"},"y2":{"datum":0},"y":{"field":"n","type":"quantitative","scale":{"domain":[0,40.9]},"axis":{"values":[0,10,20,30,40],"title":"Eastness","titleX":-146,"titleY":224}}}},{"mark":{"type":"line","color":"#000","strokeWidth":2.5},"encoding":{"y":{"field":"p","type":"quantitative","title":null,"scale":{"domain":[0,0.00507]},"axis":{"orient":"right","format":".3f","values":[0,0.001,0.002,0.003,0.004,0.005],"labelExpr":"round(datum.value*1000)%2==0?datum.label:''"}}}}],"resolve":{"scale":{"y":"independent"}}},
{"width":340,"height":1,"view":{"stroke":null},"data":{"values":[{}]},"mark":"text","encoding":{}},
{"width":400,"height":437,"data":{"values":[{"k":0,"n":46,"p":0.0068},{"k":1,"n":78,"p":0.0105},{"k":2,"n":32,"p":0.0047},{"k":3,"n":4,"p":0.0006},{"k":4,"n":13,"p":0.0016},{"k":5,"n":7,"p":0.0008},{"k":6,"n":3,"p":0.0005},{"k":7,"n":9,"p":0.0012},{"k":8,"n":29,"p":0.004},{"k":9,"n":31,"p":0.0042},{"k":10,"n":17,"p":0.0025},{"k":11,"n":86,"p":0.0103},{"k":12,"n":98,"p":0.0132},{"k":13,"n":52,"p":0.0087},{"k":14,"n":120,"p":0.0195},{"k":15,"n":131,"p":0.0186},{"k":16,"n":26,"p":0.0036},{"k":17,"n":47,"p":0.0059},{"k":18,"n":35,"p":0.0055},{"k":19,"n":33,"p":0.0064}]},"transform":[{"lookup":"k","from":{"data":{"name":"e"},"key":"k","fields":["a","b"]}}],"encoding":{"x":{"field":"a","type":"quantitative","title":null,"scale":{"domain":[-97,97]},"axis":{"values":[-50,0,50],"labelExpr":"''+datum.value"}}},"layer":[{"mark":{"type":"bar","color":"#c5ccfa"},"encoding":{"x2":{"field":"b"},"y2":{"datum":0},"y":{"field":"n","type":"quantitative","title":null,"scale":{"domain":[0,137.4]},"axis":{"values":[0,20,40,60,80,100,120],"labelExpr":"datum.value%40==0?datum.label:''"}}}},{"mark":{"type":"line","color":"#000","strokeWidth":2.5},"encoding":{"y":{"field":"p","type":"quantitative","title":null,"scale":{"domain":[0,0.0214]},"axis":{"orient":"right","format":".2f","values":[0,0.005,0.01,0.015,0.02],"labelExpr":"round(datum.value*1000)%10==0?datum.label:''"}}}}],"resolve":{"scale":{"y":"independent"}}},
{"width":304,"height":1,"view":{"stroke":null},"data":{"values":[{}]},"mark":"text","encoding":{}},
{"width":400,"height":437,"data":{"values":[{"k":0,"n":138,"p":0.0205},{"k":1,"n":98,"p":0.0123},{"k":2,"n":45,"p":0.0066},{"k":3,"n":42,"p":0.0051},{"k":4,"n":45,"p":0.0047},{"k":5,"n":32,"p":0.0039},{"k":6,"n":52,"p":0.0072},{"k":7,"n":85,"p":0.0123},{"k":8,"n":110,"p":0.0185},{"k":9,"n":220,"p":0.0349},{"k":10,"n":370,"p":0.054},{"k":11,"n":293,"p":0.0349},{"k":12,"n":350,"p":0.0482},{"k":13,"n":325,"p":0.0548},{"k":14,"n":358,"p":0.0574},{"k":15,"n":525,"p":0.0745},{"k":16,"n":550,"p":0.0759},{"k":17,"n":468,"p":0.0585},{"k":18,"n":729,"p":0.1143},{"k":19,"n":468,"p":0.0903}]},"transform":[{"lookup":"k","from":{"data":{"name":"e"},"key":"k","fields":["a","b"]}}],"encoding":{"x":{"field":"a","type":"quantitative","title":null,"scale":{"domain":[-97,97]},"axis":{"values":[-50,0,50],"labelExpr":"''+datum.value"}}},"layer":[{"mark":{"type":"bar","color":"#20b2a6"},"encoding":{"x2":{"field":"b"},"y2":{"datum":0},"y":{"field":"n","type":"quantitative","title":null,"scale":{"domain":[0,766]},"axis":{"values":[0,100,200,300,400,500,600,700],"labelExpr":"datum.value%200==0?datum.label:''"}}}},{"mark":{"type":"line","color":"#000","strokeWidth":2.5},"encoding":{"y":{"field":"p","type":"quantitative","title":null,"scale":{"domain":[0,0.1257]},"axis":{"orient":"right","format":".2f","values":[0,0.02,0.04,0.06,0.08,0.1,0.12],"labelExpr":"round(datum.value*100)%4==0?datum.label:''"}}}}],"resolve":{"scale":{"y":"independent"}}},
{"width":280,"height":1,"view":{"stroke":null},"data":{"values":[{}]},"mark":"text","encoding":{}},
{"width":400,"height":437,"data":{"values":[{"k":0,"n":1,"p":0.00013},{"k":1,"n":12,"p":0.0016},{"k":2,"n":5,"p":0.00077},{"k":3,"n":9,"p":0.00126},{"k":4,"n":7,"p":0.0007},{"k":5,"n":2,"p":0.0002},{"k":6,"n":2,"p":0.00023},{"k":7,"n":5,"p":0.00066},{"k":8,"n":6,"p":0.00082},{"k":9,"n":18,"p":0.00237},{"k":10,"n":5,"p":0.00071},{"k":11,"n":6,"p":0.00069},{"k":12,"n":12,"p":0.00161},{"k":13,"n":10,"p":0.00167},{"k":14,"n":7,"p":0.00104},{"k":15,"n":4,"p":0.00055},{"k":16,"n":4,"p":0.00054},{"k":17,"n":6,"p":0.00075},{"k":18,"n":9,"p":0.0014},{"k":19,"n":7,"p":0.00135}]},"transform":[{"lookup":"k","from":{"data":{"name":"e"},"key":"k","fields":["a","b"]}}],"encoding":{"x":{"field":"a","type":"quantitative","title":null,"scale":{"domain":[-97,97]},"axis":{"values":[-50,0,50],"labelExpr":"''+datum.value"}}},"layer":[{"mark":{"type":"bar","color":"#ffc0cb"},"encoding":{"x2":{"field":"b"},"y2":{"datum":0},"y":{"field":"n","type":"quantitative","title":null,"scale":{"domain":[0,18.86]},"axis":{"values":[0,2.5,5,7.5,10,12.5,15,17.5],"labelExpr":"datum.value%5==0?datum.label:''"}}}},{"mark":{"type":"line","color":"#000","strokeWidth":2.5},"encoding":{"y":{"field":"p","type":"quantitative","title":null,"scale":{"domain":[0,0.00261]},"axis":{"orient":"right","format":".3f","values":[0,0.0005,0.001,0.0015,0.002,0.0025],"labelExpr":"round(datum.value*10000)%10==0?datum.label:''"}}}}],"resolve":{"scale":{"y":"independent"}}},
{"width":334,"height":1,"view":{"stroke":null},"data":{"values":[{}]},"mark":"text","encoding":{}},
{"width":400,"height":437,"data":{"values":[{"k":0,"n":6765},{"k":1,"n":7484},{"k":2,"n":6359},{"k":3,"n":7109},{"k":4,"n":8734},{"k":5,"n":9100},{"k":6,"n":8203},{"k":7,"n":7656},{"k":8,"n":7266},{"k":9,"n":7578},{"k":10,"n":6906},{"k":11,"n":8469},{"k":12,"n":7422},{"k":13,"n":5938},{"k":14,"n":6250},{"k":15,"n":7109},{"k":16,"n":7297},{"k":17,"n":8047},{"k":18,"n":6375},{"k":19,"n":5141}]},"transform":[{"lookup":"k","from":{"data":{"name":"e"},"key":"k","fields":["a","b"]}}],"mark":{"type":"bar","color":"#000"},"encoding":{"x":{"field":"a","type":"quantitative","title":null,"scale":{"domain":[-97,97]},"axis":{"values":[-50,0,50],"labelExpr":"''+datum.value"}},"x2":{"field":"b"},"y2":{"datum":0},"y":{"field":"n","type":"quantitative","title":null,"scale":{"domain":[0,9578]},"axis":{"values":[0,2000,4000,6000,8000],"labelExpr":"datum.value%4000==0?datum.label:''"}}}}
]},
{"width":1,"height":34,"view":{"stroke":null},"data":{"values":[{}]},"mark":"text","encoding":{}},
{"bounds":"flush","spacing":0,"hconcat":[
{"width":755,"height":1,"view":{"stroke":null},"data":{"values":[{}]},"mark":"text","encoding":{}},
{"width":424,"height":444,"view":{"stroke":null},"layer":[
{"data":{"values":[{"k":0,"n":10},{"k":1,"n":58},{"k":2,"n":40},{"k":3,"n":20},{"k":4,"n":18},{"k":5,"n":16},{"k":6,"n":17},{"k":7,"n":34},{"k":8,"n":14},{"k":9,"n":11},{"k":10,"n":6},{"k":11,"n":6},{"k":12,"n":3},{"k":13,"n":2},{"k":14,"n":2},{"k":15,"n":15},{"k":16,"n":16},{"k":17,"n":18},{"k":18,"n":8},{"k":19,"n":10}]},"transform":[{"lookup":"k","from":{"data":{"name":"z"},"key":"k","fields":["a","b"]}}],"mark":{"type":"arc","color":"#ff8a8e","stroke":"#fff","strokeWidth":1.5},"encoding":{"theta":{"field":"a","type":"quantitative","stack":null,"scale":{"domain":[0,360],"range":[0,6.2832]}},"theta2":{"field":"b"},"radius":{"field":"n","type":"quantitative","stack":null,"scale":{"domain":[0,61],"range":[0,212]}}}},
{"data":{"values":[{"r":20},{"r":40},{"r":60}]},"mark":{"type":"arc","filled":false,"stroke":"#aaa","strokeWidth":2.5},"encoding":{"theta":{"datum":0,"type":"quantitative","scale":{"domain":[0,360],"range":[0,6.2832]}},"theta2":{"datum":360},"radius":{"field":"r","type":"quantitative","stack":null,"scale":{"domain":[0,61],"range":[0,212]}}}},
{"data":{"values":[{"r":61}]},"mark":{"type":"arc","filled":false,"stroke":"#000","strokeWidth":3},"encoding":{"theta":{"datum":0,"type":"quantitative","scale":{"domain":[0,360],"range":[0,6.2832]}},"theta2":{"datum":360},"radius":{"field":"r","type":"quantitative","stack":null,"scale":{"domain":[0,61],"range":[0,212]}}}},
{"data":{"name":"sp"},"mark":{"type":"arc","filled":false,"stroke":"#aaa","strokeWidth":1.5},"encoding":{"theta":{"field":"t","type":"quantitative","stack":null,"scale":{"domain":[0,360],"range":[0,6.2832]}},"theta2":{"field":"t"},"radius":{"datum":61,"type":"quantitative","scale":{"domain":[0,61],"range":[0,212]}}}},
{"data":{"values":[{"t":0,"r":71.5,"v":"N"},{"t":90,"r":71.5,"v":"E"},{"t":180,"r":71.5,"v":"S"},{"t":270,"r":71.5,"v":"W"},{"t":209,"r":25.8,"v":"20"},{"t":218.5,"r":47,"v":"40"}]},"mark":{"type":"text"},"encoding":{"theta":{"field":"t","type":"quantitative","stack":null,"scale":{"domain":[0,360],"range":[0,6.2832]}},"radius":{"field":"r","type":"quantitative","scale":{"domain":[0,61],"range":[0,212]}},"text":{"field":"v"}}},
{"data":{"values":[{"t":270,"r":85.5,"v":"360 degrees azimuth"}]},"mark":{"type":"text","align":"right","font":"Liberation Sans","fontSize":70},"encoding":{"theta":{"field":"t","type":"quantitative","stack":null,"scale":{"domain":[0,360],"range":[0,6.2832]}},"radius":{"field":"r","type":"quantitative","scale":{"domain":[0,61],"range":[0,212]}},"text":{"field":"v"}}}
]},
{"width":315,"height":1,"view":{"stroke":null},"data":{"values":[{}]},"mark":"text","encoding":{}},
{"width":424,"height":432,"view":{"stroke":null},"layer":[
{"data":{"values":[{"k":0,"n":20},{"k":1,"n":68},{"k":2,"n":137},{"k":3,"n":36},{"k":4,"n":28},{"k":5,"n":44},{"k":6,"n":45},{"k":7,"n":8},{"k":8,"n":15},{"k":9,"n":146},{"k":10,"n":84},{"k":11,"n":20},{"k":12,"n":25},{"k":13,"n":55},{"k":14,"n":12},{"k":15,"n":16},{"k":16,"n":18},{"k":17,"n":43},{"k":18,"n":40},{"k":19,"n":60}]},"transform":[{"lookup":"k","from":{"data":{"name":"z"},"key":"k","fields":["a","b"]}}],"mark":{"type":"arc","color":"#c5ccfa","stroke":"#fff","strokeWidth":1.5},"encoding":{"theta":{"field":"a","type":"quantitative","stack":null,"scale":{"domain":[0,360],"range":[0,6.2832]}},"theta2":{"field":"b"},"radius":{"field":"n","type":"quantitative","stack":null,"scale":{"domain":[0,158],"range":[0,212]}}}},
{"data":{"values":[{"r":50},{"r":100},{"r":150}]},"mark":{"type":"arc","filled":false,"stroke":"#aaa","strokeWidth":2.5},"encoding":{"theta":{"datum":0,"type":"quantitative","scale":{"domain":[0,360],"range":[0,6.2832]}},"theta2":{"datum":360},"radius":{"field":"r","type":"quantitative","stack":null,"scale":{"domain":[0,158],"range":[0,212]}}}},
{"data":{"values":[{"r":158}]},"mark":{"type":"arc","filled":false,"stroke":"#000","strokeWidth":3},"encoding":{"theta":{"datum":0,"type":"quantitative","scale":{"domain":[0,360],"range":[0,6.2832]}},"theta2":{"datum":360},"radius":{"field":"r","type":"quantitative","stack":null,"scale":{"domain":[0,158],"range":[0,212]}}}},
{"data":{"name":"sp"},"mark":{"type":"arc","filled":false,"stroke":"#aaa","strokeWidth":1.5},"encoding":{"theta":{"field":"t","type":"quantitative","stack":null,"scale":{"domain":[0,360],"range":[0,6.2832]}},"theta2":{"field":"t"},"radius":{"datum":158,"type":"quantitative","scale":{"domain":[0,158],"range":[0,212]}}}},
{"data":{"values":[{"t":0,"r":185.6,"v":"N"},{"t":90,"r":185.6,"v":"E"},{"t":180,"r":185.6,"v":"S"},{"t":270,"r":185.6,"v":"W"},{"t":209,"r":63,"v":"50"},{"t":215,"r":114,"v":"100"}]},"mark":{"type":"text"},"encoding":{"theta":{"field":"t","type":"quantitative","stack":null,"scale":{"domain":[0,360],"range":[0,6.2832]}},"radius":{"field":"r","type":"quantitative","scale":{"domain":[0,158],"range":[0,212]}},"text":{"field":"v"}}}
]},
{"width":283,"height":1,"view":{"stroke":null},"data":{"values":[{}]},"mark":"text","encoding":{}},
{"width":424,"height":448,"view":{"stroke":null},"layer":[
{"data":{"values":[{"k":0,"n":130},{"k":1,"n":350},{"k":2,"n":280},{"k":3,"n":583},{"k":4,"n":654},{"k":5,"n":786},{"k":6,"n":454},{"k":7,"n":413},{"k":8,"n":380},{"k":9,"n":425},{"k":10,"n":310},{"k":11,"n":200},{"k":12,"n":80},{"k":13,"n":30},{"k":14,"n":40},{"k":15,"n":100},{"k":16,"n":130},{"k":17,"n":20},{"k":18,"n":50},{"k":19,"n":100}]},"transform":[{"lookup":"k","from":{"data":{"name":"z"},"key":"k","fields":["a","b"]}}],"mark":{"type":"arc","color":"#20b2a6","stroke":"#fff","strokeWidth":1.5},"encoding":{"theta":{"field":"a","type":"quantitative","stack":null,"scale":{"domain":[0,360],"range":[0,6.2832]}},"theta2":{"field":"b"},"radius":{"field":"n","type":"quantitative","stack":null,"scale":{"domain":[0,817],"range":[0,212]}}}},
{"data":{"values":[{"r":200},{"r":400},{"r":600},{"r":800}]},"mark":{"type":"arc","filled":false,"stroke":"#aaa","strokeWidth":2.5},"encoding":{"theta":{"datum":0,"type":"quantitative","scale":{"domain":[0,360],"range":[0,6.2832]}},"theta2":{"datum":360},"radius":{"field":"r","type":"quantitative","stack":null,"scale":{"domain":[0,817],"range":[0,212]}}}},
{"data":{"values":[{"r":817}]},"mark":{"type":"arc","filled":false,"stroke":"#000","strokeWidth":3},"encoding":{"theta":{"datum":0,"type":"quantitative","scale":{"domain":[0,360],"range":[0,6.2832]}},"theta2":{"datum":360},"radius":{"field":"r","type":"quantitative","stack":null,"scale":{"domain":[0,817],"range":[0,212]}}}},
{"data":{"name":"sp"},"mark":{"type":"arc","filled":false,"stroke":"#aaa","strokeWidth":1.5},"encoding":{"theta":{"field":"t","type":"quantitative","stack":null,"scale":{"domain":[0,360],"range":[0,6.2832]}},"theta2":{"field":"t"},"radius":{"datum":817,"type":"quantitative","scale":{"domain":[0,817],"range":[0,212]}}}},
{"data":{"values":[{"t":0,"r":959,"v":"N"},{"t":90,"r":959,"v":"E"},{"t":180,"r":959,"v":"S"},{"t":270,"r":959,"v":"W"},{"t":218,"r":237,"v":"2.0"},{"t":218,"r":437,"v":"4.0"},{"t":218.6,"r":645,"v":"6.0"}]},"mark":{"type":"text"},"encoding":{"theta":{"field":"t","type":"quantitative","stack":null,"scale":{"domain":[0,360],"range":[0,6.2832]}},"radius":{"field":"r","type":"quantitative","scale":{"domain":[0,817],"range":[0,212]}},"text":{"field":"v"}}},
{"data":{"values":[{"t":203,"r":695,"v":"×10²"}]},"mark":{"type":"text","fontSize":26},"encoding":{"theta":{"field":"t","type":"quantitative","stack":null,"scale":{"domain":[0,360],"range":[0,6.2832]}},"radius":{"field":"r","type":"quantitative","scale":{"domain":[0,817],"range":[0,212]}},"text":{"field":"v"}}}
]},
{"width":256,"height":1,"view":{"stroke":null},"data":{"values":[{}]},"mark":"text","encoding":{}},
{"width":424,"height":442,"view":{"stroke":null},"layer":[
{"data":{"values":[{"k":0,"n":10},{"k":1,"n":5},{"k":2,"n":4},{"k":3,"n":7},{"k":4,"n":5},{"k":5,"n":7},{"k":6,"n":10.5},{"k":7,"n":4},{"k":8,"n":8},{"k":9,"n":16},{"k":10,"n":11},{"k":11,"n":9.2},{"k":12,"n":3},{"k":13,"n":4},{"k":14,"n":4.5},{"k":15,"n":5},{"k":16,"n":8},{"k":17,"n":9},{"k":18,"n":7},{"k":19,"n":5}]},"transform":[{"lookup":"k","from":{"data":{"name":"z"},"key":"k","fields":["a","b"]}}],"mark":{"type":"arc","color":"#ffc0cb","stroke":"#fff","strokeWidth":1.5},"encoding":{"theta":{"field":"a","type":"quantitative","stack":null,"scale":{"domain":[0,360],"range":[0,6.2832]}},"theta2":{"field":"b"},"radius":{"field":"n","type":"quantitative","stack":null,"scale":{"domain":[0,16.85],"range":[0,212]}}}},
{"data":{"values":[{"r":5},{"r":10},{"r":15}]},"mark":{"type":"arc","filled":false,"stroke":"#aaa","strokeWidth":2.5},"encoding":{"theta":{"datum":0,"type":"quantitative","scale":{"domain":[0,360],"range":[0,6.2832]}},"theta2":{"datum":360},"radius":{"field":"r","type":"quantitative","stack":null,"scale":{"domain":[0,16.85],"range":[0,212]}}}},
{"data":{"values":[{"r":16.85}]},"mark":{"type":"arc","filled":false,"stroke":"#000","strokeWidth":3},"encoding":{"theta":{"datum":0,"type":"quantitative","scale":{"domain":[0,360],"range":[0,6.2832]}},"theta2":{"datum":360},"radius":{"field":"r","type":"quantitative","stack":null,"scale":{"domain":[0,16.85],"range":[0,212]}}}},
{"data":{"name":"sp"},"mark":{"type":"arc","filled":false,"stroke":"#aaa","strokeWidth":1.5},"encoding":{"theta":{"field":"t","type":"quantitative","stack":null,"scale":{"domain":[0,360],"range":[0,6.2832]}},"theta2":{"field":"t"},"radius":{"datum":16.85,"type":"quantitative","scale":{"domain":[0,16.85],"range":[0,212]}}}},
{"data":{"values":[{"t":0,"r":19.8,"v":"N"},{"t":90,"r":19.8,"v":"E"},{"t":180,"r":19.8,"v":"S"},{"t":270,"r":19.8,"v":"W"},{"t":234,"r":5.7,"v":"5"},{"t":232,"r":10.9,"v":"10"}]},"mark":{"type":"text"},"encoding":{"theta":{"field":"t","type":"quantitative","stack":null,"scale":{"domain":[0,360],"range":[0,6.2832]}},"radius":{"field":"r","type":"quantitative","scale":{"domain":[0,16.85],"range":[0,212]}},"text":{"field":"v"}}}
]},
{"width":308,"height":1,"view":{"stroke":null},"data":{"values":[{}]},"mark":"text","encoding":{}},
{"width":424,"height":434,"view":{"stroke":null},"layer":[
{"data":{"values":[{"k":0,"n":9700},{"k":1,"n":12800},{"k":2,"n":10700},{"k":3,"n":9300},{"k":4,"n":9600},{"k":5,"n":9100},{"k":6,"n":7900},{"k":7,"n":13200},{"k":8,"n":10700},{"k":9,"n":10400},{"k":10,"n":10400},{"k":11,"n":12800},{"k":12,"n":10900},{"k":13,"n":8300},{"k":14,"n":8600},{"k":15,"n":8500},{"k":16,"n":13500},{"k":17,"n":13500},{"k":18,"n":20000},{"k":19,"n":12700}]},"transform":[{"lookup":"k","from":{"data":{"name":"z"},"key":"k","fields":["a","b"]}}],"mark":{"type":"arc","color":"#000","stroke":"#fff","strokeWidth":1.5},"encoding":{"theta":{"field":"a","type":"quantitative","stack":null,"scale":{"domain":[0,360],"range":[0,6.2832]}},"theta2":{"field":"b"},"radius":{"field":"n","type":"quantitative","stack":null,"scale":{"domain":[0,20960],"range":[0,212]}}}},
{"data":{"values":[{"r":6000},{"r":12000},{"r":18000}]},"mark":{"type":"arc","filled":false,"stroke":"#aaa","strokeWidth":2.5},"encoding":{"theta":{"datum":0,"type":"quantitative","scale":{"domain":[0,360],"range":[0,6.2832]}},"theta2":{"datum":360},"radius":{"field":"r","type":"quantitative","stack":null,"scale":{"domain":[0,20960],"range":[0,212]}}}},
{"data":{"values":[{"r":20960}]},"mark":{"type":"arc","filled":false,"stroke":"#000","strokeWidth":3},"encoding":{"theta":{"datum":0,"type":"quantitative","scale":{"domain":[0,360],"range":[0,6.2832]}},"theta2":{"datum":360},"radius":{"field":"r","type":"quantitative","stack":null,"scale":{"domain":[0,20960],"range":[0,212]}}}},
{"data":{"name":"sp"},"mark":{"type":"arc","filled":false,"stroke":"#aaa","strokeWidth":1.5},"encoding":{"theta":{"field":"t","type":"quantitative","stack":null,"scale":{"domain":[0,360],"range":[0,6.2832]}},"theta2":{"field":"t"},"radius":{"datum":20960,"type":"quantitative","scale":{"domain":[0,20960],"range":[0,212]}}}},
{"data":{"values":[{"t":0,"r":24600,"v":"N"},{"t":90,"r":24600,"v":"E"},{"t":180,"r":24600,"v":"S"},{"t":270,"r":24600,"v":"W"},{"t":238,"r":11400,"v":"0.6"},{"t":234,"r":17650,"v":"1.2"}]},"mark":{"type":"text"},"encoding":{"theta":{"field":"t","type":"quantitative","stack":null,"scale":{"domain":[0,360],"range":[0,6.2832]}},"radius":{"field":"r","type":"quantitative","scale":{"domain":[0,20960],"range":[0,212]}},"text":{"field":"v"}}},
{"data":{"values":[{"t":211,"r":16960,"v":"×10⁴"}]},"mark":{"type":"text","fontSize":33},"encoding":{"theta":{"field":"t","type":"quantitative","stack":null,"scale":{"domain":[0,360],"range":[0,6.2832]}},"radius":{"field":"r","type":"quantitative","scale":{"domain":[0,20960],"range":[0,212]}},"text":{"field":"v"}}}
]}
]},
{"width":1,"height":68,"view":{"stroke":null},"data":{"values":[{}]},"mark":"text","encoding":{}},
{"bounds":"flush","spacing":0,"hconcat":[
{"width":773,"height":1,"view":{"stroke":null},"data":{"values":[{}]},"mark":"text","encoding":{}},
{"width":400,"height":437,"data":{"values":[{"k":0,"n":0,"p":0},{"k":1,"n":0,"p":0},{"k":2,"n":0.5,"p":0.00008},{"k":3,"n":1,"p":0.0001},{"k":4,"n":2,"p":0.0002},{"k":5,"n":7,"p":0.0006},{"k":6,"n":16,"p":0.0013},{"k":7,"n":34,"p":0.003},{"k":8,"n":50,"p":0.004},{"k":9,"n":79,"p":0.0066},{"k":10,"n":50,"p":0.0049},{"k":11,"n":25,"p":0.0049},{"k":12,"n":16,"p":0.0072},{"k":13,"n":1,"p":0.0011},{"k":14,"n":1,"p":0.0016},{"k":15,"n":0,"p":0},{"k":16,"n":0,"p":0},{"k":17,"n":0,"p":0},{"k":18,"n":0,"p":0},{"k":19,"n":0,"p":0}]},"transform":[{"lookup":"k","from":{"data":{"name":"s"},"key":"k","fields":["a","b"]}}],"encoding":{"x":{"field":"a","type":"quantitative","title":null,"scale":{"domain":[-9.5,190]},"axis":{"values":[0,50,100,150]}}},"layer":[{"mark":{"type":"bar","color":"#ff8a8e"},"encoding":{"x2":{"field":"b"},"y2":{"datum":0},"y":{"field":"n","type":"quantitative","scale":{"domain":[0,83.1]},"axis":{"values":[0,20,40,60,80],"title":"Slope (degrees)","titleX":-153,"titleY":227}}}},{"mark":{"type":"line","color":"#000","strokeWidth":2.5},"encoding":{"y":{"field":"p","type":"quantitative","title":null,"scale":{"domain":[0,0.0079]},"axis":{"orient":"right","format":".3f","values":[0,0.001,0.002,0.003,0.004,0.005,0.006,0.007],"labelExpr":"round(datum.value*1000)%2==0?datum.label:''"}}}}],"resolve":{"scale":{"y":"independent"}}},
{"width":322,"height":1,"view":{"stroke":null},"data":{"values":[{}]},"mark":"text","encoding":{}},
{"width":400,"height":437,"data":{"values":[{"k":0,"n":0,"p":0},{"k":1,"n":0,"p":0},{"k":2,"n":3,"p":0.0002},{"k":3,"n":61,"p":0.0042},{"k":4,"n":62,"p":0.0052},{"k":5,"n":32,"p":0.0028},{"k":6,"n":72,"p":0.0056},{"k":7,"n":95,"p":0.0088},{"k":8,"n":178,"p":0.0146},{"k":9,"n":135,"p":0.0115},{"k":10,"n":190,"p":0.0188},{"k":11,"n":47,"p":0.0092},{"k":12,"n":16,"p":0.0077},{"k":13,"n":0,"p":0.0011},{"k":14,"n":0,"p":0},{"k":15,"n":0,"p":0},{"k":16,"n":0,"p":0},{"k":17,"n":0,"p":0},{"k":18,"n":0,"p":0},{"k":19,"n":0,"p":0}]},"transform":[{"lookup":"k","from":{"data":{"name":"s"},"key":"k","fields":["a","b"]}}],"encoding":{"x":{"field":"a","type":"quantitative","title":null,"scale":{"domain":[-9.5,190]},"axis":{"values":[0,50,100,150]}}},"layer":[{"mark":{"type":"bar","color":"#c5ccfa"},"encoding":{"x2":{"field":"b"},"y2":{"datum":0},"y":{"field":"n","type":"quantitative","title":null,"scale":{"domain":[0,200]},"axis":{"values":[0,50,100,150,200],"labelExpr":"datum.value%100==0?datum.label:''"}}}},{"mark":{"type":"line","color":"#000","strokeWidth":2.5},"encoding":{"y":{"field":"p","type":"quantitative","title":null,"scale":{"domain":[0,0.0207]},"axis":{"orient":"right","format":".2f","values":[0,0.005,0.01,0.015,0.02],"labelExpr":"round(datum.value*1000)%10==0?datum.label:''"}}}}],"resolve":{"scale":{"y":"independent"}}},
{"width":285,"height":1,"view":{"stroke":null},"data":{"values":[{}]},"mark":"text","encoding":{}},
{"width":400,"height":437,"data":{"values":[{"k":0,"n":0,"p":0.0008},{"k":1,"n":75,"p":0.0068},{"k":2,"n":158,"p":0.0098},{"k":3,"n":240,"p":0.0167},{"k":4,"n":308,"p":0.0253},{"k":5,"n":322,"p":0.0277},{"k":6,"n":425,"p":0.034},{"k":7,"n":620,"p":0.0555},{"k":8,"n":712,"p":0.0581},{"k":9,"n":1035,"p":0.0864},{"k":10,"n":600,"p":0.0595},{"k":11,"n":545,"p":0.1063},{"k":12,"n":175,"p":0.0804},{"k":13,"n":4,"p":0.0101},{"k":14,"n":3,"p":0.0127},{"k":15,"n":2,"p":0.0068},{"k":16,"n":6,"p":0.0181},{"k":17,"n":5,"p":0.0121},{"k":18,"n":0,"p":0.0028},{"k":19,"n":0,"p":0.0064}]},"transform":[{"lookup":"k","from":{"data":{"name":"s"},"key":"k","fields":["a","b"]}}],"encoding":{"x":{"field":"a","type":"quantitative","title":null,"scale":{"domain":[-9.5,190]},"axis":{"values":[0,50,100,150]}}},"layer":[{"mark":{"type":"bar","color":"#20b2a6"},"encoding":{"x2":{"field":"b"},"y2":{"datum":0},"y":{"field":"n","type":"quantitative","title":null,"scale":{"domain":[0,1089]},"axis":{"values":[0,200,400,600,800,1000],"labelExpr":"datum.value%400==0?datum.label:''"}}}},{"mark":{"type":"line","color":"#000","strokeWidth":2.5},"encoding":{"y":{"field":"p","type":"quantitative","title":null,"scale":{"domain":[0,0.117]},"axis":{"orient":"right","format":".2f","values":[0,0.02,0.04,0.06,0.08,0.1],"labelExpr":"round(datum.value*100)%4==0&&datum.value<0.1?datum.label:''"}}}}],"resolve":{"scale":{"y":"independent"}}},
{"width":320,"height":1,"view":{"stroke":null},"data":{"values":[{}]},"mark":"text","encoding":{}},
{"width":400,"height":437,"data":{"values":[{"k":0,"n":5,"p":0.00094},{"k":1,"n":26,"p":0.0019},{"k":2,"n":25,"p":0.00148},{"k":3,"n":23,"p":0.00153},{"k":4,"n":9,"p":0.00073},{"k":5,"n":14,"p":0.00118},{"k":6,"n":7,"p":0.00053},{"k":7,"n":3,"p":0.00026},{"k":8,"n":15,"p":0.00122},{"k":9,"n":9,"p":0.0006},{"k":10,"n":1,"p":0.0001},{"k":11,"n":0,"p":0},{"k":12,"n":0,"p":0},{"k":13,"n":0,"p":0},{"k":14,"n":0,"p":0},{"k":15,"n":0,"p":0},{"k":16,"n":0,"p":0},{"k":17,"n":0,"p":0},{"k":18,"n":0,"p":0}]},"transform":[{"lookup":"k","from":{"data":{"name":"s4"},"key":"k","fields":["a","b"]}}],"encoding":{"x":{"field":"a","type":"quantitative","title":null,"scale":{"domain":[-9.5,190]},"axis":{"values":[0,50,100,150]}}},"layer":[{"mark":{"type":"bar","color":"#ffc0cb"},"encoding":{"x2":{"field":"b"},"y2":{"datum":0},"y":{"field":"n","type":"quantitative","title":null,"scale":{"domain":[0,27.4]},"axis":{"values":[0,5,10,15,20,25],"labelExpr":"datum.value%10==0?datum.label:''"}}}},{"mark":{"type":"line","color":"#000","strokeWidth":2.5},"encoding":{"y":{"field":"p","type":"quantitative","title":null,"scale":{"domain":[0,0.0021]},"axis":{"orient":"right","format":".3f","values":[0,0.0005,0.001,0.0015,0.002],"labelExpr":"round(datum.value*10000)%10==0?datum.label:''"}}}}],"resolve":{"scale":{"y":"independent"}}},
{"width":324,"height":1,"view":{"stroke":null},"data":{"values":[{}]},"mark":"text","encoding":{}},
{"width":400,"height":437,"data":{"values":[{"k":0,"n":5290},{"k":1,"n":13560},{"k":2,"n":16900},{"k":3,"n":14980},{"k":4,"n":12115},{"k":5,"n":11870},{"k":6,"n":12660},{"k":7,"n":11210},{"k":8,"n":12270},{"k":9,"n":11960},{"k":10,"n":10180},{"k":11,"n":5140},{"k":12,"n":2240},{"k":13,"n":880},{"k":14,"n":630},{"k":15,"n":755},{"k":16,"n":630},{"k":17,"n":725},{"k":18,"n":630},{"k":19,"n":480}]},"transform":[{"lookup":"k","from":{"data":{"name":"s"},"key":"k","fields":["a","b"]}}],"mark":{"type":"bar","color":"#000"},"encoding":{"x":{"field":"a","type":"quantitative","title":null,"scale":{"domain":[-9.5,190]},"axis":{"values":[0,50,100,150]}},"x2":{"field":"b"},"y2":{"datum":0},"y":{"field":"n","type":"quantitative","title":null,"scale":{"domain":[0,17760]},"axis":{"values":[0,5000,10000,15000]}}}}
]},
{"width":1,"height":80,"view":{"stroke":null},"data":{"values":[{}]},"mark":"text","encoding":{}},
{"bounds":"flush","spacing":0,"hconcat":[
{"width":779,"height":1,"view":{"stroke":null},"data":{"values":[{}]},"mark":"text","encoding":{}},
{"width":400,"height":437,"data":{"values":[{"k":0,"n":0,"p":0},{"k":1,"n":3,"p":0.0002},{"k":2,"n":8,"p":0.00042},{"k":3,"n":44,"p":0.00235},{"k":4,"n":77,"p":0.00397},{"k":5,"n":59,"p":0.00354},{"k":6,"n":35,"p":0.00254},{"k":7,"n":26,"p":0.00229},{"k":8,"n":7,"p":0.00081},{"k":9,"n":13,"p":0.00197},{"k":10,"n":6,"p":0.0012},{"k":11,"n":4,"p":0.0011},{"k":12,"n":1,"p":0.00042},{"k":13,"n":0,"p":0},{"k":14,"n":0,"p":0},{"k":15,"n":0,"p":0},{"k":16,"n":0,"p":0},{"k":17,"n":0,"p":0},{"k":18,"n":0,"p":0},{"k":19,"n":0,"p":0}]},"transform":[{"lookup":"k","from":{"data":{"name":"r"},"key":"k","fields":["a","b"]}}],"encoding":{"x":{"field":"a","type":"quantitative","title":null,"scale":{"domain":[-0.003,0.254]},"axis":{"values":[0,0.1,0.2],"format":".1f"}}},"layer":[{"mark":{"type":"bar","color":"#ff8a8e"},"encoding":{"x2":{"field":"b"},"y2":{"datum":0},"y":{"field":"n","type":"quantitative","scale":{"domain":[0,81]},"axis":{"values":[0,20,40,60,80],"title":"Ruggedness (m)","titleX":-158,"titleY":190}}}},{"mark":{"type":"line","color":"#000","strokeWidth":2.5},"encoding":{"y":{"field":"p","type":"quantitative","title":null,"scale":{"domain":[0,0.00435]},"axis":{"orient":"right","format":".3f","values":[0,0.001,0.002,0.003,0.004]}}}}],"resolve":{"scale":{"y":"independent"}}},
{"width":316,"height":1,"view":{"stroke":null},"data":{"values":[{}]},"mark":"text","encoding":{}},
{"width":400,"height":437,"data":{"values":[{"k":0,"n":24,"p":0.006},{"k":1,"n":34,"p":0.0024},{"k":2,"n":75,"p":0.0038},{"k":3,"n":155,"p":0.0086},{"k":4,"n":193,"p":0.01},{"k":5,"n":211,"p":0.0128},{"k":6,"n":71,"p":0.0051},{"k":7,"n":53,"p":0.0048},{"k":8,"n":29,"p":0.0036},{"k":9,"n":25,"p":0.0039},{"k":10,"n":27,"p":0.0059},{"k":11,"n":1,"p":0.0003},{"k":12,"n":1,"p":0.0009},{"k":13,"n":0,"p":0},{"k":14,"n":0,"p":0},{"k":15,"n":0,"p":0},{"k":16,"n":0,"p":0},{"k":17,"n":0,"p":0},{"k":18,"n":0,"p":0},{"k":19,"n":0,"p":0}]},"transform":[{"lookup":"k","from":{"data":{"name":"r"},"key":"k","fields":["a","b"]}}],"encoding":{"x":{"field":"a","type":"quantitative","title":null,"scale":{"domain":[-0.003,0.254]},"axis":{"values":[0,0.1,0.2],"format":".1f"}}},"layer":[{"mark":{"type":"bar","color":"#c5ccfa"},"encoding":{"x2":{"field":"b"},"y2":{"datum":0},"y":{"field":"n","type":"quantitative","title":null,"scale":{"domain":[0,221.5]},"axis":{"values":[0,50,100,150,200],"labelExpr":"datum.value%100==0?datum.label:''"}}}},{"mark":{"type":"line","color":"#000","strokeWidth":2.5},"encoding":{"y":{"field":"p","type":"quantitative","title":null,"scale":{"domain":[0,0.01403]},"axis":{"orient":"right","format":".3f","values":[0,0.002,0.004,0.006,0.008,0.01,0.012],"labelExpr":"round(datum.value*1000)%4==0?datum.label:''"}}}}],"resolve":{"scale":{"y":"independent"}}},
{"width":288,"height":1,"view":{"stroke":null},"data":{"values":[{}]},"mark":"text","encoding":{}},
{"width":400,"height":437,"data":{"values":[{"k":0,"n":80,"p":0.0205},{"k":1,"n":310,"p":0.0215},{"k":2,"n":722,"p":0.0362},{"k":3,"n":768,"p":0.0426},{"k":4,"n":665,"p":0.0345},{"k":5,"n":625,"p":0.0374},{"k":6,"n":395,"p":0.0289},{"k":7,"n":440,"p":0.0397},{"k":8,"n":370,"p":0.044},{"k":9,"n":290,"p":0.0453},{"k":10,"n":210,"p":0.0432},{"k":11,"n":210,"p":0.0609},{"k":12,"n":115,"p":0.062},{"k":13,"n":50,"p":0.0374},{"k":14,"n":5,"p":0.0089},{"k":15,"n":0,"p":0.0026},{"k":16,"n":0,"p":0.0045},{"k":17,"n":0,"p":0.0002},{"k":18,"n":0,"p":0},{"k":19,"n":0,"p":0}]},"transform":[{"lookup":"k","from":{"data":{"name":"r"},"key":"k","fields":["a","b"]}}],"encoding":{"x":{"field":"a","type":"quantitative","title":null,"scale":{"domain":[-0.003,0.254]},"axis":{"values":[0,0.1,0.2],"format":".1f"}}},"layer":[{"mark":{"type":"bar","color":"#20b2a6"},"encoding":{"x2":{"field":"b"},"y2":{"datum":0},"y":{"field":"n","type":"quantitative","title":null,"scale":{"domain":[0,807]},"axis":{"values":[0,200,400,600,800],"labelExpr":"datum.value%400==0?datum.label:''"}}}},{"mark":{"type":"line","color":"#000","strokeWidth":2.5},"encoding":{"y":{"field":"p","type":"quantitative","title":null,"scale":{"domain":[0,0.0681]},"axis":{"orient":"right","format":".2f","values":[0,0.01,0.02,0.03,0.04,0.05,0.06],"labelExpr":"round(datum.value*100)%2==0?datum.label:''"}}}}],"resolve":{"scale":{"y":"independent"}}},
{"width":317,"height":1,"view":{"stroke":null},"data":{"values":[{}]},"mark":"text","encoding":{}},
{"width":400,"height":437,"data":{"values":[{"k":0,"n":0,"p":0},{"k":1,"n":10,"p":0.0006},{"k":2,"n":35,"p":0.00176},{"k":3,"n":10,"p":0.00055},{"k":4,"n":21,"p":0.00109},{"k":5,"n":18,"p":0.0011},{"k":6,"n":13,"p":0.00095},{"k":7,"n":13,"p":0.00117},{"k":8,"n":7,"p":0.00076},{"k":9,"n":2,"p":0.0003},{"k":10,"n":5,"p":0.00101},{"k":11,"n":0,"p":0},{"k":12,"n":3,"p":0.00135},{"k":13,"n":0,"p":0},{"k":14,"n":0,"p":0},{"k":15,"n":0,"p":0},{"k":16,"n":0,"p":0},{"k":17,"n":0,"p":0},{"k":18,"n":0,"p":0},{"k":19,"n":0,"p":0}]},"transform":[{"lookup":"k","from":{"data":{"name":"r"},"key":"k","fields":["a","b"]}}],"encoding":{"x":{"field":"a","type":"quantitative","title":null,"scale":{"domain":[-0.003,0.254]},"axis":{"values":[0,0.1,0.2],"format":".1f"}}},"layer":[{"mark":{"type":"bar","color":"#ffc0cb"},"encoding":{"x2":{"field":"b"},"y2":{"datum":0},"y":{"field":"n","type":"quantitative","title":null,"scale":{"domain":[0,36.8]},"axis":{"values":[0,5,10,15,20,25,30,35],"labelExpr":"datum.value%10==0?datum.label:''"}}}},{"mark":{"type":"line","color":"#000","strokeWidth":2.5},"encoding":{"y":{"field":"p","type":"quantitative","title":null,"scale":{"domain":[0,0.00193]},"axis":{"orient":"right","format":".3f","values":[0,0.00025,0.0005,0.00075,0.001,0.00125,0.0015,0.00175],"labelExpr":"datum.value==0?'0.000':(round(datum.value*10000)%5==0?format(datum.value,'.4~f'):'')"}}}}],"resolve":{"scale":{"y":"independent"}}},
{"width":341,"height":1,"view":{"stroke":null},"data":{"values":[{}]},"mark":"text","encoding":{}},
{"width":400,"height":437,"data":{"values":[{"k":0,"n":3890},{"k":1,"n":14500},{"k":2,"n":19900},{"k":3,"n":18100},{"k":4,"n":19250},{"k":5,"n":16430},{"k":6,"n":13640},{"k":7,"n":11070},{"k":8,"n":8390},{"k":9,"n":6460},{"k":10,"n":4890},{"k":11,"n":3460},{"k":12,"n":2140},{"k":13,"n":1250},{"k":14,"n":710},{"k":15,"n":360},{"k":16,"n":140},{"k":17,"n":40},{"k":18,"n":0},{"k":19,"n":0}]},"transform":[{"lookup":"k","from":{"data":{"name":"r"},"key":"k","fields":["a","b"]}}],"mark":{"type":"bar","color":"#000"},"encoding":{"x":{"field":"a","type":"quantitative","title":null,"scale":{"domain":[-0.003,0.254]},"axis":{"values":[0,0.1,0.2],"format":".1f"}},"x2":{"field":"b"},"y2":{"datum":0},"y":{"field":"n","type":"quantitative","title":null,"scale":{"domain":[0,20960]},"axis":{"values":[0,5000,10000,15000,20000]}}}}
]}
]}
